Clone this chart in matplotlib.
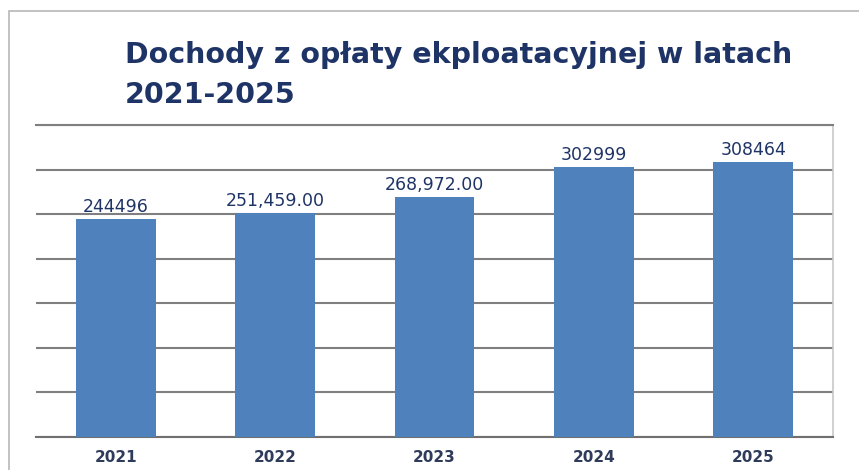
import matplotlib.pyplot as plt
from matplotlib.patches import Rectangle

# data
years = ["2021", "2022", "2023", "2024", "2025"]
values = [244496, 251459, 268972, 302999, 308464]
labels = ["244496", "251,459.00", "268,972.00", "302999", "308464"]
title_lines = ["Dochody z opłaty ekploatacyjnej w latach", "2021-2025"]

bar_color = "#4f81bd"
navy = "#1f3466"

fig = plt.figure(figsize=(8.59, 4.70), dpi=100)
fig.patches.append(Rectangle((9 / 859, -0.1), 1.1, 1 - 11 / 470 + 0.1,
                             transform=fig.transFigure, fill=False,
                             edgecolor="#b8b8b8", linewidth=1.2))

ax = fig.add_axes([36 / 859, 1 - 437 / 470, (833 - 36) / 859, (437 - 125) / 470])
x = range(len(years))
ax.bar(x, values, width=0.5, color=bar_color, zorder=3)
ax.set_xlim(-0.5, 4.5)
ax.set_ylim(0, 350000)
ax.set_yticks(range(0, 350001, 50000))
ax.yaxis.grid(True, color="#7f7f7f", linewidth=1.5, zorder=0)
ax.tick_params(axis="y", left=False, labelleft=False)
ax.tick_params(axis="x", bottom=False, pad=6)
ax.set_xticks(list(x))
ax.set_xticklabels(years, fontsize=11, fontweight="bold", color="#2e3b5b")
ax.spines["left"].set_visible(False)
ax.spines["top"].set_color("#7f7f7f")
ax.spines["top"].set_linewidth(1.5)
ax.spines["bottom"].set_color("#6f6f6f")
ax.spines["bottom"].set_linewidth(1.5)
ax.spines["right"].set_color("#c8c8c8")
ax.spines["right"].set_linewidth(1.2)

for xi, v, lab in zip(x, values, labels):
    ax.annotate(lab, (xi, v), xytext=(0, 2), textcoords="offset points",
                ha="center", va="bottom", fontsize=12.5, color=navy, zorder=4)

# title, two lines placed by baseline
for line, base in zip(title_lines, [63, 103]):
    fig.text(125 / 859, 1 - base / 470, line, fontsize=20.5, fontweight="bold",
             color=navy, ha="left", va="baseline")

fig.savefig("out.png", dpi=100)
